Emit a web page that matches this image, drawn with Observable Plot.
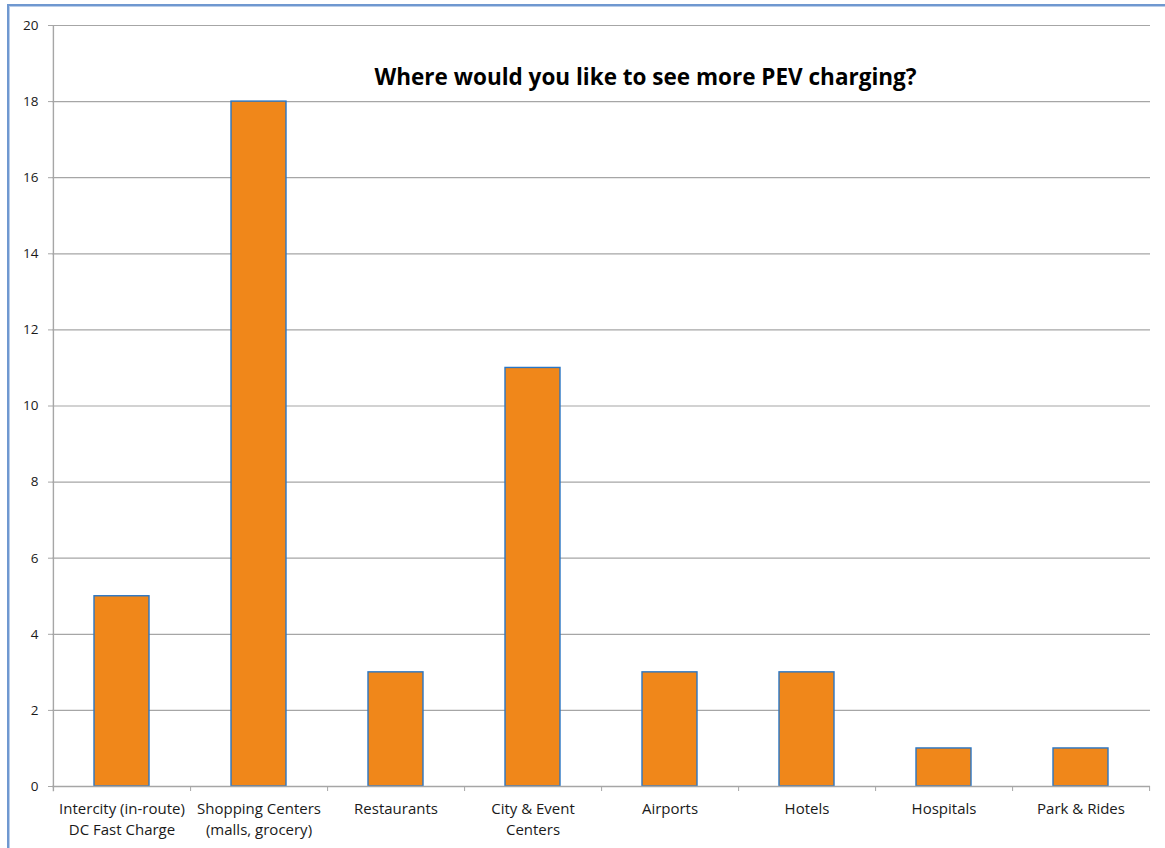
<!DOCTYPE html>
<html>
<head>
<meta charset="utf-8">
<script src="https://cdn.jsdelivr.net/npm/d3@7"></script>
<script src="https://cdn.jsdelivr.net/npm/@observablehq/plot@0.6"></script>
<style>
  html, body { margin: 0; padding: 0; background: #fff; }
  #wrap { position: relative; width: 1165px; height: 848px; overflow: hidden; }
  #border { position: absolute; left: 7px; top: 4px; width: 1200px; height: 900px;
            border-left: 2px solid #6f98d0; border-top: 2px solid #6f98d0;
            box-shadow: inset 1px 1px 0 #b9cde9; }
  #chart { position: absolute; left: 0; top: 0; }
  #chart svg { background: transparent; }
</style>
</head>
<body>
<div id="wrap">
  <div id="border"></div>
  <div id="chart"></div>
</div>
<script>
const categories = [
  "Intercity (in-route)\nDC Fast Charge",
  "Shopping Centers\n(malls, grocery)",
  "Restaurants",
  "City & Event\nCenters",
  "Airports",
  "Hotels",
  "Hospitals",
  "Park & Rides"
];
const values = [5, 18, 3, 11, 3, 3, 1, 1];
const yTicks = [0, 2, 4, 6, 8, 10, 12, 14, 16, 18, 20];
const title = "Where would you like to see more PEV charging?";

const data = categories.map((c, i) => ({category: c, value: values[i]}));
const grid = "#a6a6a6";
const font = "'Open Sans', Lato, sans-serif";

const chart = Plot.plot({
  width: 1165,
  height: 848,
  marginLeft: 52,
  marginRight: 15,
  marginTop: 25,
  marginBottom: 62,
  style: {fontFamily: font, fontSize: "14px", color: "#1a1a1a", background: "transparent"},
  x: {domain: categories, padding: 0},
  y: {domain: [0, 20]},
  marks: [
    Plot.gridY(yTicks, {stroke: grid, strokeOpacity: 1, strokeWidth: 1.2}),
    Plot.barY(data, {x: "category", y: "value", fill: "#f0871a", stroke: "#2a76c4", strokeWidth: 1.4, insetLeft: 41, insetRight: 41}),
    Plot.ruleY([0], {stroke: grid, strokeWidth: 1.4}),
    Plot.ruleX([categories[0]], {x: d => d, dx: -68.6, y1: -0.14, y2: 20, stroke: grid, strokeWidth: 1.4}),
    Plot.axisY(yTicks, {tickSize: 4, tickPadding: 10, stroke: grid, fontSize: 13.5, tickFormat: d => d, label: null}),
    Plot.axisX({tickSize: 0, tickPadding: 12.5, lineHeight: 1.4, fontSize: 15, label: null}),
    Plot.axisX({tickSize: 5, dx: 68.6, stroke: grid, tickFormat: () => "", label: null}),
    Plot.text([title], {frameAnchor: "top", dy: 44, dx: 44, fontSize: 22.5, fontWeight: "bold", fill: "#000", fontFamily: "'Open Sans', sans-serif"})
  ]
});
document.getElementById("chart").appendChild(chart);
</script>
</body>
</html>
